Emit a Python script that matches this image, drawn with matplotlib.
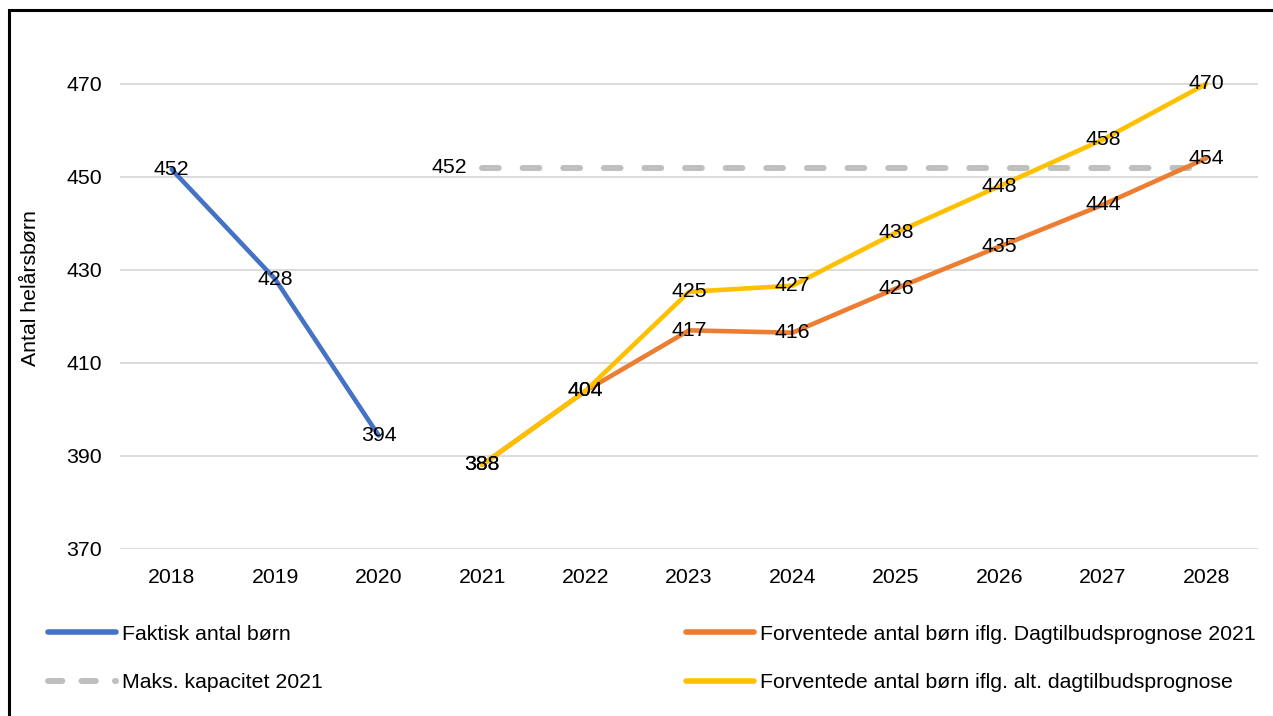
import matplotlib
matplotlib.use("Agg")
import matplotlib.pyplot as plt
from matplotlib.lines import Line2D
from matplotlib.patches import Rectangle

plt.rcParams['font.family'] = ['Liberation Sans', 'DejaVu Sans']

years = ['2018', '2019', '2020', '2021', '2022', '2023', '2024',
         '2025', '2026', '2027', '2028']

# actual number of children 2018-2020
faktisk = [451.6, 428.0, 394.4]
# max capacity 2021 (flat from 2021 to 2028)
kapacitet = [452] * 8
# forecast 2021, 2021-2028
prognose = [388.1, 404.0, 417.0, 416.5, 426.0, 435.0, 444.0, 454.0]
# alternative forecast, 2021-2028
alt_prognose = [388.1, 404.0, 425.3, 426.6, 438.0, 448.0, 458.0, 470.0]

BLUE = '#4472C4'
ORANGE = '#ED7D31'
YELLOW = '#FFC000'
GREY = '#BFBFBF'
GRID = '#D9D9D9'

fig = plt.figure(figsize=(12.73, 7.16), dpi=100)
ax = fig.add_axes([120 / 1273, 167 / 716, 1138 / 1273, 521 / 716])

x_hist = list(range(0, 3))
x_prog = list(range(3, 11))

dash = (0, (2.8, 4.0))
ax.plot(x_prog, kapacitet, color=GREY, lw=4.3, ls=dash,
        dash_capstyle='round', zorder=2)
ax.plot(x_hist, faktisk, color=BLUE, lw=3.3, solid_capstyle='round', zorder=3)
ax.plot(x_prog, prognose, color=ORANGE, lw=3.3, solid_capstyle='round', zorder=3)
ax.plot(x_prog, alt_prognose, color=YELLOW, lw=3.3, solid_capstyle='round', zorder=4)

fs = 15.3
for xi, v in zip(x_hist, faktisk):
    ax.text(xi, v, f'{v:.0f}', ha='center', va='center', fontsize=fs, zorder=5)
for xi, v in zip(x_prog, prognose):
    ax.text(xi, v, f'{v:.0f}', ha='center', va='center', fontsize=fs, zorder=5)
for xi, v in zip(x_prog, alt_prognose):
    ax.text(xi, v, f'{v:.0f}', ha='center', va='center', fontsize=fs, zorder=5)
ax.text(x_prog[0] - 0.32, kapacitet[0], f'{kapacitet[0]}', ha='center',
        va='center', fontsize=fs, zorder=5)

ax.set_xlim(-0.5, 10.5)
ax.set_ylim(370, 482)
ax.set_yticks(range(370, 471, 20))
ax.set_xticks(range(len(years)))
ax.set_xticklabels(years)
ax.tick_params(axis='both', length=0, labelsize=fs, pad=14)
ax.tick_params(axis='y', pad=13)
ax.yaxis.grid(True, color=GRID, lw=1.3)
ax.set_axisbelow(True)
for s in ax.spines.values():
    s.set_visible(False)
ax.set_ylabel('Antal helårsbørn', fontsize=fs, labelpad=19)

handles_l = [Line2D([], [], color=BLUE, lw=4, solid_capstyle='round'),
             Line2D([], [], color=GREY, lw=4.3, ls=(0, (2.4, 3.2)),
                    dash_capstyle='round')]
handles_r = [Line2D([], [], color=ORANGE, lw=4, solid_capstyle='round'),
             Line2D([], [], color=YELLOW, lw=4, solid_capstyle='round')]
leg_kw = dict(frameon=False, fontsize=fs, handlelength=3.2, handletextpad=0.3,
              labelspacing=1.4, borderaxespad=0)
fig.legend(handles_l, ['Faktisk antal børn', 'Maks. kapacitet 2021'],
           loc='upper left', bbox_to_anchor=(39 / 1273, 1 - 616 / 716), **leg_kw)
fig.legend(handles_r, ['Forventede antal børn iflg. Dagtilbudsprognose 2021',
                       'Forventede antal børn iflg. alt. dagtilbudsprognose'],
           loc='upper left', bbox_to_anchor=(677 / 1273, 1 - 616 / 716), **leg_kw)

# outer chart border (cut by the image edge)
fig.patches.append(Rectangle((9 / 1273, -0.1), 1.2, 1 - 10 / 716 + 0.1,
                             transform=fig.transFigure, fill=False,
                             ec='black', lw=2.2))

fig.savefig('out.png', dpi=100)
